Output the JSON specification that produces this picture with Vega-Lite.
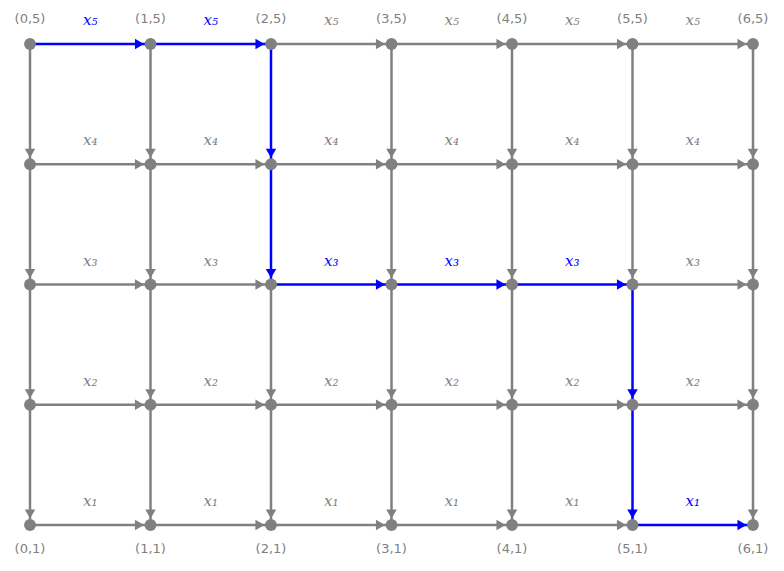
{
  "$schema": "https://vega.github.io/schema/vega-lite/v6.json",
  "autosize": "none",
  "width": 723,
  "height": 481,
  "padding": {"left": 30, "top": 44, "right": 31, "bottom": 46},
  "background": "white",
  "config": {"view": {"stroke": null}},
  "datasets": {
    "edges": [
      {"x":2,"y":5,"x2":3,"y2":5,"d":"h","p":0,"t":"x₅"},{"x":3,"y":5,"x2":4,"y2":5,"d":"h","p":0,"t":"x₅"},{"x":4,"y":5,"x2":5,"y2":5,"d":"h","p":0,"t":"x₅"},{"x":5,"y":5,"x2":6,"y2":5,"d":"h","p":0,"t":"x₅"},
      {"x":0,"y":4,"x2":1,"y2":4,"d":"h","p":0,"t":"x₄"},{"x":1,"y":4,"x2":2,"y2":4,"d":"h","p":0,"t":"x₄"},{"x":2,"y":4,"x2":3,"y2":4,"d":"h","p":0,"t":"x₄"},{"x":3,"y":4,"x2":4,"y2":4,"d":"h","p":0,"t":"x₄"},{"x":4,"y":4,"x2":5,"y2":4,"d":"h","p":0,"t":"x₄"},{"x":5,"y":4,"x2":6,"y2":4,"d":"h","p":0,"t":"x₄"},
      {"x":0,"y":3,"x2":1,"y2":3,"d":"h","p":0,"t":"x₃"},{"x":1,"y":3,"x2":2,"y2":3,"d":"h","p":0,"t":"x₃"},{"x":5,"y":3,"x2":6,"y2":3,"d":"h","p":0,"t":"x₃"},
      {"x":0,"y":2,"x2":1,"y2":2,"d":"h","p":0,"t":"x₂"},{"x":1,"y":2,"x2":2,"y2":2,"d":"h","p":0,"t":"x₂"},{"x":2,"y":2,"x2":3,"y2":2,"d":"h","p":0,"t":"x₂"},{"x":3,"y":2,"x2":4,"y2":2,"d":"h","p":0,"t":"x₂"},{"x":4,"y":2,"x2":5,"y2":2,"d":"h","p":0,"t":"x₂"},{"x":5,"y":2,"x2":6,"y2":2,"d":"h","p":0,"t":"x₂"},
      {"x":0,"y":1,"x2":1,"y2":1,"d":"h","p":0,"t":"x₁"},{"x":1,"y":1,"x2":2,"y2":1,"d":"h","p":0,"t":"x₁"},{"x":2,"y":1,"x2":3,"y2":1,"d":"h","p":0,"t":"x₁"},{"x":3,"y":1,"x2":4,"y2":1,"d":"h","p":0,"t":"x₁"},{"x":4,"y":1,"x2":5,"y2":1,"d":"h","p":0,"t":"x₁"},
      {"x":0,"y":5,"x2":0,"y2":4,"d":"v","p":0},{"x":0,"y":4,"x2":0,"y2":3,"d":"v","p":0},{"x":0,"y":3,"x2":0,"y2":2,"d":"v","p":0},{"x":0,"y":2,"x2":0,"y2":1,"d":"v","p":0},
      {"x":1,"y":5,"x2":1,"y2":4,"d":"v","p":0},{"x":1,"y":4,"x2":1,"y2":3,"d":"v","p":0},{"x":1,"y":3,"x2":1,"y2":2,"d":"v","p":0},{"x":1,"y":2,"x2":1,"y2":1,"d":"v","p":0},
      {"x":2,"y":3,"x2":2,"y2":2,"d":"v","p":0},{"x":2,"y":2,"x2":2,"y2":1,"d":"v","p":0},
      {"x":3,"y":5,"x2":3,"y2":4,"d":"v","p":0},{"x":3,"y":4,"x2":3,"y2":3,"d":"v","p":0},{"x":3,"y":3,"x2":3,"y2":2,"d":"v","p":0},{"x":3,"y":2,"x2":3,"y2":1,"d":"v","p":0},
      {"x":4,"y":5,"x2":4,"y2":4,"d":"v","p":0},{"x":4,"y":4,"x2":4,"y2":3,"d":"v","p":0},{"x":4,"y":3,"x2":4,"y2":2,"d":"v","p":0},{"x":4,"y":2,"x2":4,"y2":1,"d":"v","p":0},
      {"x":5,"y":5,"x2":5,"y2":4,"d":"v","p":0},{"x":5,"y":4,"x2":5,"y2":3,"d":"v","p":0},
      {"x":6,"y":5,"x2":6,"y2":4,"d":"v","p":0},{"x":6,"y":4,"x2":6,"y2":3,"d":"v","p":0},{"x":6,"y":3,"x2":6,"y2":2,"d":"v","p":0},{"x":6,"y":2,"x2":6,"y2":1,"d":"v","p":0},
      {"x":0,"y":5,"x2":1,"y2":5,"d":"h","p":1,"t":"x₅"},{"x":1,"y":5,"x2":2,"y2":5,"d":"h","p":1,"t":"x₅"},
      {"x":2,"y":5,"x2":2,"y2":4,"d":"v","p":1},{"x":2,"y":4,"x2":2,"y2":3,"d":"v","p":1},
      {"x":2,"y":3,"x2":3,"y2":3,"d":"h","p":1,"t":"x₃"},{"x":3,"y":3,"x2":4,"y2":3,"d":"h","p":1,"t":"x₃"},{"x":4,"y":3,"x2":5,"y2":3,"d":"h","p":1,"t":"x₃"},
      {"x":5,"y":3,"x2":5,"y2":2,"d":"v","p":1},{"x":5,"y":2,"x2":5,"y2":1,"d":"v","p":1},
      {"x":5,"y":1,"x2":6,"y2":1,"d":"h","p":1,"t":"x₁"}
    ],
    "nodes": [
      {"i":0,"j":5},{"i":1,"j":5},{"i":2,"j":5},{"i":3,"j":5},{"i":4,"j":5},{"i":5,"j":5},{"i":6,"j":5},
      {"i":0,"j":4},{"i":1,"j":4},{"i":2,"j":4},{"i":3,"j":4},{"i":4,"j":4},{"i":5,"j":4},{"i":6,"j":4},
      {"i":0,"j":3},{"i":1,"j":3},{"i":2,"j":3},{"i":3,"j":3},{"i":4,"j":3},{"i":5,"j":3},{"i":6,"j":3},
      {"i":0,"j":2},{"i":1,"j":2},{"i":2,"j":2},{"i":3,"j":2},{"i":4,"j":2},{"i":5,"j":2},{"i":6,"j":2},
      {"i":0,"j":1},{"i":1,"j":1},{"i":2,"j":1},{"i":3,"j":1},{"i":4,"j":1},{"i":5,"j":1},{"i":6,"j":1}
    ]
  },
  "layer": [
    {
      "data": {"name": "edges"},
      "mark": {"type": "rule", "strokeWidth": 2.5},
      "encoding": {
        "x": {"field": "x", "type": "quantitative", "scale": {"domain": [0, 6]}, "axis": null},
        "y": {"field": "y", "type": "quantitative", "scale": {"domain": [1, 5]}, "axis": null},
        "x2": {"field": "x2"},
        "y2": {"field": "y2"},
        "color": {"field": "p", "type": "nominal", "scale": {"domain": [0, 1], "range": ["#808080", "#0000ff"]}, "legend": null}
      }
    },
    {
      "data": {"name": "edges"},
      "transform": [{"filter": "datum.d == 'h'"}],
      "mark": {"type": "point", "shape": "triangle-right", "filled": true, "size": 110, "opacity": 1, "xOffset": -11},
      "encoding": {
        "x": {"field": "x2", "type": "quantitative"},
        "y": {"field": "y2", "type": "quantitative"},
        "color": {"field": "p", "type": "nominal", "scale": {"domain": [0, 1], "range": ["#808080", "#0000ff"]}, "legend": null}
      }
    },
    {
      "data": {"name": "edges"},
      "transform": [{"filter": "datum.d == 'v'"}],
      "mark": {"type": "point", "shape": "triangle-down", "filled": true, "size": 110, "opacity": 1, "yOffset": -11},
      "encoding": {
        "x": {"field": "x2", "type": "quantitative"},
        "y": {"field": "y2", "type": "quantitative"},
        "color": {"field": "p", "type": "nominal", "scale": {"domain": [0, 1], "range": ["#808080", "#0000ff"]}, "legend": null}
      }
    },
    {
      "data": {"name": "nodes"},
      "mark": {"type": "circle", "size": 140, "color": "#808080", "opacity": 1},
      "encoding": {
        "x": {"field": "i", "type": "quantitative"},
        "y": {"field": "j", "type": "quantitative"}
      }
    },
    {
      "data": {"name": "edges"},
      "transform": [{"filter": "datum.d == 'h'"}, {"calculate": "(datum.x + datum.x2) / 2", "as": "mx"}],
      "mark": {"type": "text", "font": "DejaVu Serif", "fontStyle": "italic", "fontSize": 15, "dy": -24},
      "encoding": {
        "x": {"field": "mx", "type": "quantitative"},
        "y": {"field": "y", "type": "quantitative"},
        "text": {"field": "t"},
        "color": {"field": "p", "type": "nominal", "scale": {"domain": [0, 1], "range": ["#808080", "#0000ff"]}, "legend": null}
      }
    },
    {
      "data": {"name": "nodes"},
      "transform": [{"filter": "datum.j == 5"}, {"calculate": "'(' + datum.i + ',' + datum.j + ')'", "as": "lab"}],
      "mark": {"type": "text", "font": "DejaVu Sans", "fontSize": 13, "color": "#808080", "dy": -25},
      "encoding": {
        "x": {"field": "i", "type": "quantitative"},
        "y": {"field": "j", "type": "quantitative"},
        "text": {"field": "lab"}
      }
    },
    {
      "data": {"name": "nodes"},
      "transform": [{"filter": "datum.j == 1"}, {"calculate": "'(' + datum.i + ',' + datum.j + ')'", "as": "lab"}],
      "mark": {"type": "text", "font": "DejaVu Sans", "fontSize": 13, "color": "#808080", "dy": 24},
      "encoding": {
        "x": {"field": "i", "type": "quantitative"},
        "y": {"field": "j", "type": "quantitative"},
        "text": {"field": "lab"}
      }
    }
  ]
}
